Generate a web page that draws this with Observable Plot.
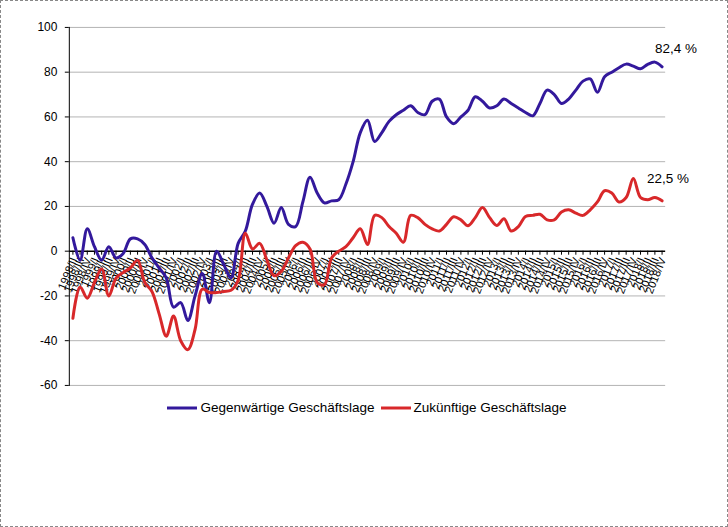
<!DOCTYPE html>
<html>
<head>
<meta charset="utf-8">
<script src="https://cdn.jsdelivr.net/npm/d3@7"></script>
<script src="https://cdn.jsdelivr.net/npm/@observablehq/plot@0.6"></script>
<style>
  html, body { margin: 0; padding: 0; background: #fff; }
  #wrap { position: relative; width: 728px; height: 527px; box-sizing: border-box; border: 1px dashed #888; font-family: "Liberation Sans", Arial, sans-serif; }
  #chart { position: absolute; left: 0; top: 0; }
  #legend { position: absolute; left: 67px; top: 399px; width: 598px; display: flex; justify-content: center; align-items: center; font-size: 13.5px; color: #000; }
  .item { display: flex; align-items: center; margin: 0 3px; }
  .item svg { margin-right: 3px; }
</style>
</head>
<body>
<div id="wrap">
  <div id="chart"></div>
  <div id="legend"></div>
</div>
<script>
const quarters = [
  "1998/II","1998/III","1998/IV",
  "1999/I","1999/II","1999/III","1999/IV",
  "2000/I","2000/II","2000/III","2000/IV",
  "2001/I","2001/II","2001/III","2001/IV",
  "2002/I","2002/II","2002/III","2002/IV",
  "2003/I","2003/II","2003/III","2003/IV",
  "2004/I","2004/II","2004/III","2004/IV",
  "2005/I","2005/II","2005/III","2005/IV",
  "2006/I","2006/II","2006/III","2006/IV",
  "2007/I","2007/II","2007/III","2007/IV",
  "2008/I","2008/II","2008/III","2008/IV",
  "2009/I","2009/II","2009/III","2009/IV",
  "2010/I","2010/II","2010/III","2010/IV",
  "2011/I","2011/II","2011/III","2011/IV",
  "2012/I","2012/II","2012/III","2012/IV",
  "2013/I","2013/II","2013/III","2013/IV",
  "2014/I","2014/II","2014/III","2014/IV",
  "2015/I","2015/II","2015/III","2015/IV",
  "2016/I","2016/II","2016/III","2016/IV",
  "2017/I","2017/II","2017/III","2017/IV",
  "2018/I","2018/II","2018/III","2018/IV"
];

const gegenwaertig = [
  6, -4, 10, 2, -4, 2, -3, -1, 5.5, 5.5,
  3, -3, -7.5, -12, -25, -23, -31, -20, -10, -23,
  0, -6, -12, 3.5, 9, 21, 26, 20, 12.5, 19.5,
  12, 11, 22, 33, 26, 21.6, 22.5, 23, 30, 40,
  53, 58.5, 49, 53, 58, 61, 63, 65, 62, 61,
  67, 68, 60, 57, 60, 63, 69, 67, 64, 65,
  68, 66, 64, 62, 60.5, 66, 72, 70, 66, 68,
  72, 76, 77, 71, 78, 80, 82, 83.6, 82.7, 81.5,
  83.5, 84.5, 82.4
];

const zukuenftig = [
  -30, -16, -21, -14, -8, -20, -12, -9.5, -7.5, -4,
  -14, -18, -28, -38, -29, -40, -44, -35, -17, -18.5,
  -18.5, -18, -17.5, -13, 8, 1, 3.5, -4, -11, -9,
  -3, 2.5, 4, 1, -14, -15, -3, 0, 2, 6,
  10, 3, 16, 15, 11, 8, 4, 16, 15, 12,
  10, 9, 12, 15.4, 14, 11.4, 15, 19.5, 15, 11.5,
  14.5, 9, 11, 15.5, 16, 16.5, 14, 14, 17.5, 18.5,
  17, 16, 18.5, 22, 27, 26, 22, 24, 32.5, 24,
  23, 24, 22.5
];

const seriesNames = ["Gegenwärtige Geschäftslage", "Zukünftige Geschäftslage"];
const seriesColors = ["#33199c", "#d8282a"];
const endLabels = ["82,4 %", "22,5 %"];
const yTicks = [-60, -40, -20, 0, 20, 40, 60, 80, 100];

const rows = [];
quarters.forEach((q, i) => {
  rows.push({q, v: gegenwaertig[i], s: seriesNames[0]});
  rows.push({q, v: zukuenftig[i], s: seriesNames[1]});
});
const last = quarters[quarters.length - 1];

const chart = Plot.plot({
  width: 728,
  height: 391,
  marginLeft: 68,
  marginRight: 62,
  marginTop: 26,
  marginBottom: 6,
  style: {fontFamily: "'Liberation Sans', Arial, sans-serif", fontSize: "12px", color: "#000", background: "transparent", overflow: "visible"},
  x: {type: "point", domain: quarters, padding: 0.5, round: false, axis: null},
  y: {domain: [-60, 100], axis: null},
  color: {domain: seriesNames, range: seriesColors},
  marks: [
    Plot.gridY(yTicks.filter(d => d !== 0), {stroke: "#b4b4b4", strokeOpacity: 1, strokeWidth: 1}),
    Plot.axisY(yTicks, {label: null, tickSize: 4, tickPadding: 8, tickFormat: d => String(d), fontSize: 12, stroke: "#000"}),
    Plot.frame({anchor: "left", stroke: "#000"}),
    Plot.ruleY([0], {stroke: "#000", strokeWidth: 1.5}),
    Plot.ruleX(quarters, {x: d => d, y1: 0, y2: -1.8, stroke: "#000"}),
    Plot.text(quarters, {x: d => d, y: () => 0, text: d => d, rotate: -68, textAnchor: "end", dy: 7, dx: 1, fontSize: 11, fill: "#000"}),
    Plot.line(rows, {x: "q", y: "v", z: "s", stroke: "s", strokeWidth: 3, curve: "catmull-rom"}),
    Plot.text([0], {x: () => last, y: () => gegenwaertig[gegenwaertig.length - 1], text: () => endLabels[0], textAnchor: "start", dx: -7, dy: -18, fontSize: 13.5, fill: "#000"}),
    Plot.text([0], {x: () => last, y: () => zukuenftig[zukuenftig.length - 1], text: () => endLabels[1], textAnchor: "start", dx: -15, dy: -22, fontSize: 13.5, fill: "#000"})
  ]
});
document.getElementById("chart").appendChild(chart);

const legend = document.getElementById("legend");
seriesNames.forEach((name, i) => {
  const item = document.createElement("div");
  item.className = "item";
  item.innerHTML = `<svg width="30" height="6"><line x1="0" y1="3" x2="30" y2="3" stroke="${seriesColors[i]}" stroke-width="3"/></svg><span>${name}</span>`;
  legend.appendChild(item);
});
</script>
</body>
</html>
